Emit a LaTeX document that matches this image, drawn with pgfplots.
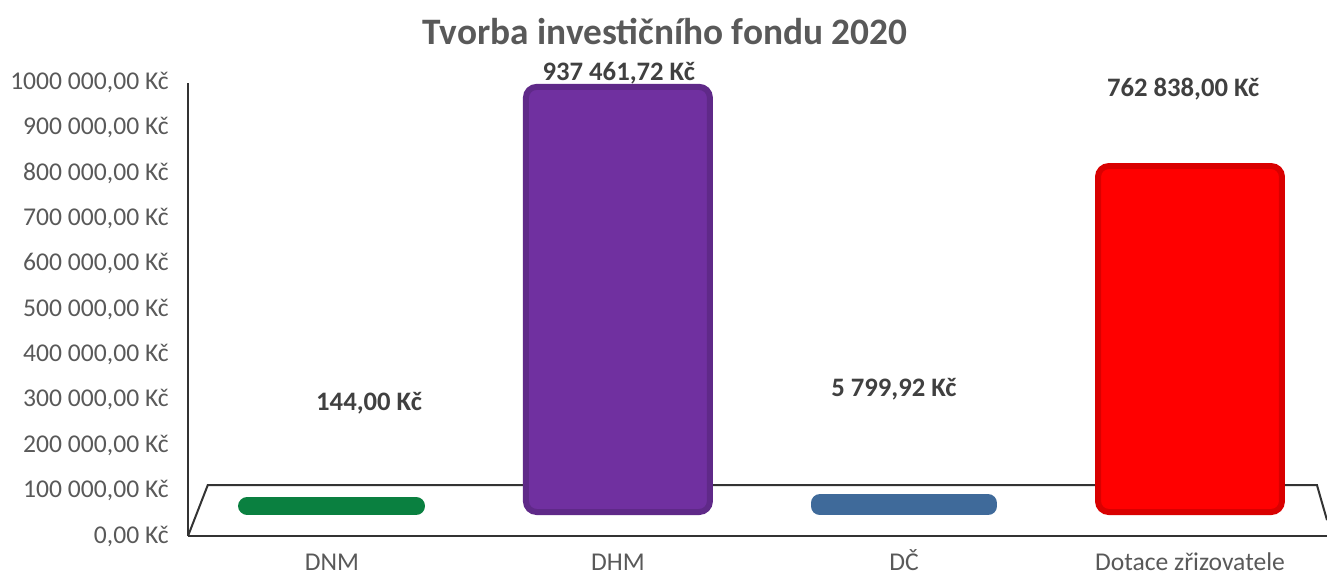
\documentclass[border=0pt]{standalone}
\usepackage{pgfplots}
\pgfplotsset{compat=1.18}
\usepackage{fontspec}
\setmainfont{Carlito}
\definecolor{cgreen}{RGB}{10,128,64}
\definecolor{cpurple}{RGB}{112,48,160}
\definecolor{cblue}{RGB}{63,106,154}
\definecolor{cred}{RGB}{255,0,0}
\definecolor{ctick}{RGB}{89,89,89}
\definecolor{clabel}{RGB}{64,64,64}
\begin{document}
\begin{tikzpicture}
\begin{axis}[
  at={(0,0)}, anchor=south west,
  scale only axis,
  width=854.25pt, height=340.1pt,
  xmin=-0.503, xmax=3.479,
  ymin=0, ymax=1000000,
  clip=false,
  axis lines=left,
  axis line style={-, draw=black!80, line width=1.5pt},
  major tick length=0pt,
  scaled ticks=false,
  xtick={0,1,2,3},
  xticklabels={DNM,DHM,DČ,Dotace zřizovatele},
  ytick={0,100000,200000,300000,400000,500000,600000,700000,800000,900000,1000000},
  yticklabels={{0,00 Kč},{100 000,00 Kč},{200 000,00 Kč},{300 000,00 Kč},{400 000,00 Kč},{500 000,00 Kč},{600 000,00 Kč},{700 000,00 Kč},{800 000,00 Kč},{900 000,00 Kč},{1000 000,00 Kč}},
  yticklabel style={font=\fontsize{19.2}{21}\selectfont, text=ctick, xshift=-11pt},
  xticklabel style={font=\fontsize{19.2}{21}\selectfont, text=ctick, anchor=base, yshift=-25.5pt},
]
% floor of the 3D chart
\draw[black!80, line width=1.5pt] (axis cs:-0.503,0) -- (axis cs:-0.434,112000) -- (axis cs:3.444,112000) -- (axis cs:3.479,35000);

% slabs (small values)
\addplot[ybar, bar shift=0pt, bar width=0.59, yshift=22.5pt, fill=cgreen, draw=cgreen, line width=13.5pt, line join=round]
  coordinates {(0,144)};
\addplot[ybar, bar shift=0pt, bar width=0.59, yshift=22.5pt, fill=cblue, draw=cblue, line width=13.5pt, line join=round]
  coordinates {(2,5799.92)};
% tall bars
\addplot[ybar, bar shift=0pt, bar width=0.643, yshift=18pt, fill=cpurple, draw=cpurple!85!black, line width=4.5pt, rounded corners=8pt]
  coordinates {(1,937461.72)};
\addplot[ybar, bar shift=0pt, bar width=0.643, yshift=18pt, fill=cred, draw=cred!85!black, line width=4.5pt, rounded corners=8pt]
  coordinates {(3,762838)};

% data labels
\addplot[draw=none, mark=none, point meta=explicit symbolic,
  nodes near coords,
  nodes near coords style={anchor=center, font=\bfseries\fontsize{20}{22}\selectfont, text=clabel}]
  coordinates {
    (0.13,293000) [144,00 Kč]
    (1.003,1021000) [937 461,72 Kč]
    (1.965,324000) [5 799,92 Kč]
    (2.976,985000) [762 838,00 Kč]
  };
\end{axis}
\node[font=\bfseries\fontsize{28}{32}\selectfont, text=ctick] at (357.75pt,378pt) {Tvorba investičního fondu 2020};
\pgfresetboundingbox
\useasboundingbox (-141pt,-31.5pt) rectangle (854.25pt,402pt);
\end{tikzpicture}
\end{document}
